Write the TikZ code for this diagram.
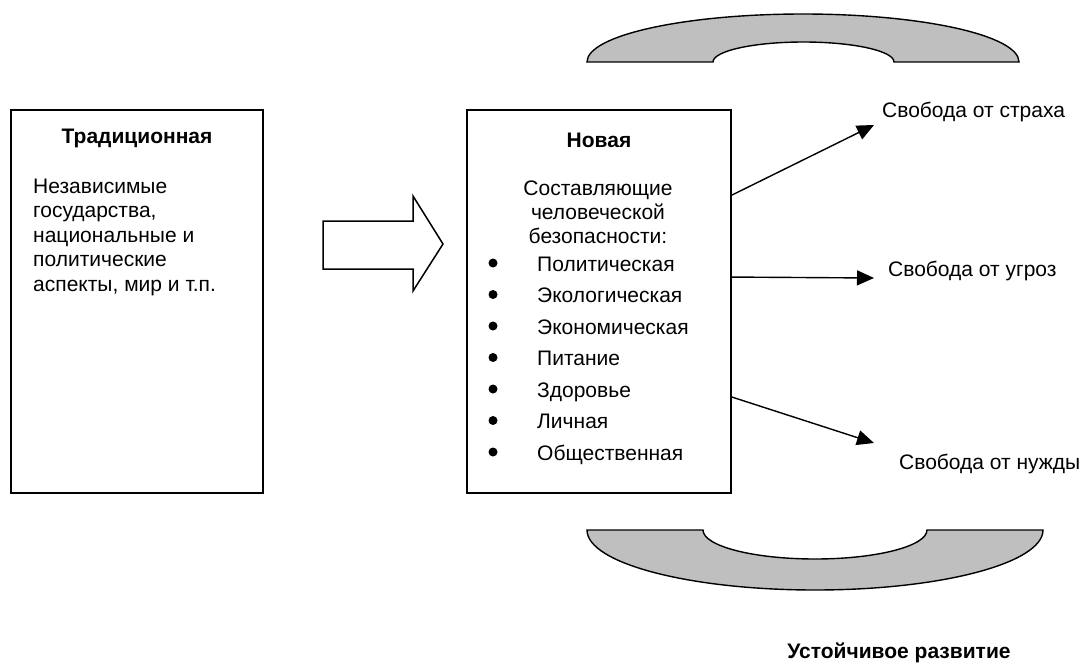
\documentclass[tikz,border=0pt]{standalone}
\usepackage{fontspec}
\setmainfont{Liberation Sans}
\usetikzlibrary{arrows.meta}

\begin{document}
\begin{tikzpicture}[x=1pt,y=-1pt,
    font=\fontsize{21}{24.5}\selectfont,
    frame/.style={draw,line width=1.9pt,minimum width=#1,minimum height=383pt,inner sep=0pt},
    title/.style={inner sep=0pt,anchor=base,font=\fontsize{21}{24.5}\selectfont\bfseries},
    txt/.style={inner sep=0pt,anchor=base west},
    link/.style={line width=1.4pt,-{Triangle[length=17pt,width=15pt]}},
    ring/.style={draw,line width=1.4pt,fill=black!25}]
  \useasboundingbox (0,0) rectangle (1085,664);

  % the two boxes
  \node[frame=252pt] (trad) at (137,301.5) {};
  \node[frame=264pt] (new) at (599,301.5) {};

  \node[title] (tradtitle) at (137,143) {Традиционная};
  \foreach \line [count=\i from 0] in {Независимые,{государства,},{национальные и},{политические},{аспекты, мир и т.п.}}
    \node[txt] (trad\i) at (33,193+24.5*\i) {\line};

  \node[title] (newtitle) at (599,147) {Новая};
  \foreach \line [count=\i from 0] in {Составляющие,человеческой,безопасности:}
    \node[inner sep=0pt,anchor=base] (head\i) at (598,195+24*\i) {\line};
  % list with bullets
  \foreach \name [count=\i from 0] in {Политическая,Экологическая,Экономическая,Питание,Здоровье,Личная,Общественная}{
    \node[txt] (item\i) at (537,271+31.5*\i) {\name};
    \fill ([xshift=-44pt,yshift=8pt]item\i.base west) circle (4.5pt);
  }

  % block arrow between the boxes
  \draw[line width=1.5pt] (323,221) -- (413,221) -- (413,196) -- (443,244)
    -- (413,291) -- (413,269) -- (323,269) -- cycle;

  % three freedoms
  \node[txt] (fear) at (882,117) {Свобода от страха};
  \node[txt] (threat) at (888,276) {Свобода от угроз};
  \node[txt] (want) at (899,469) {Свобода от нужды};
  \coordinate (fearend) at (874,125);
  \coordinate (threatend) at (874,278);
  \coordinate (wantend) at (874,443);
  \draw[link] ([yshift=-86pt]new.north east) -- (fearend);
  \draw[link] ([yshift=-168pt]new.north east) -- (threatend);
  \draw[link] ([yshift=-288pt]new.north east) -- (wantend);

  % arcs above and below
  \draw[ring] (587,62) arc[start angle=180,end angle=0,x radius=216pt,y radius=48pt]
    -- (894,62) arc[start angle=0,end angle=180,x radius=90.5pt,y radius=20pt] -- cycle;
  \draw[ring] (587,530) arc[start angle=180,end angle=360,x radius=228pt,y radius=60pt]
    -- (927,530) arc[start angle=360,end angle=180,x radius=112pt,y radius=29pt] -- cycle;

  \node[title] (sust) at (899,658) {Устойчивое развитие};
\end{tikzpicture}
\end{document}
